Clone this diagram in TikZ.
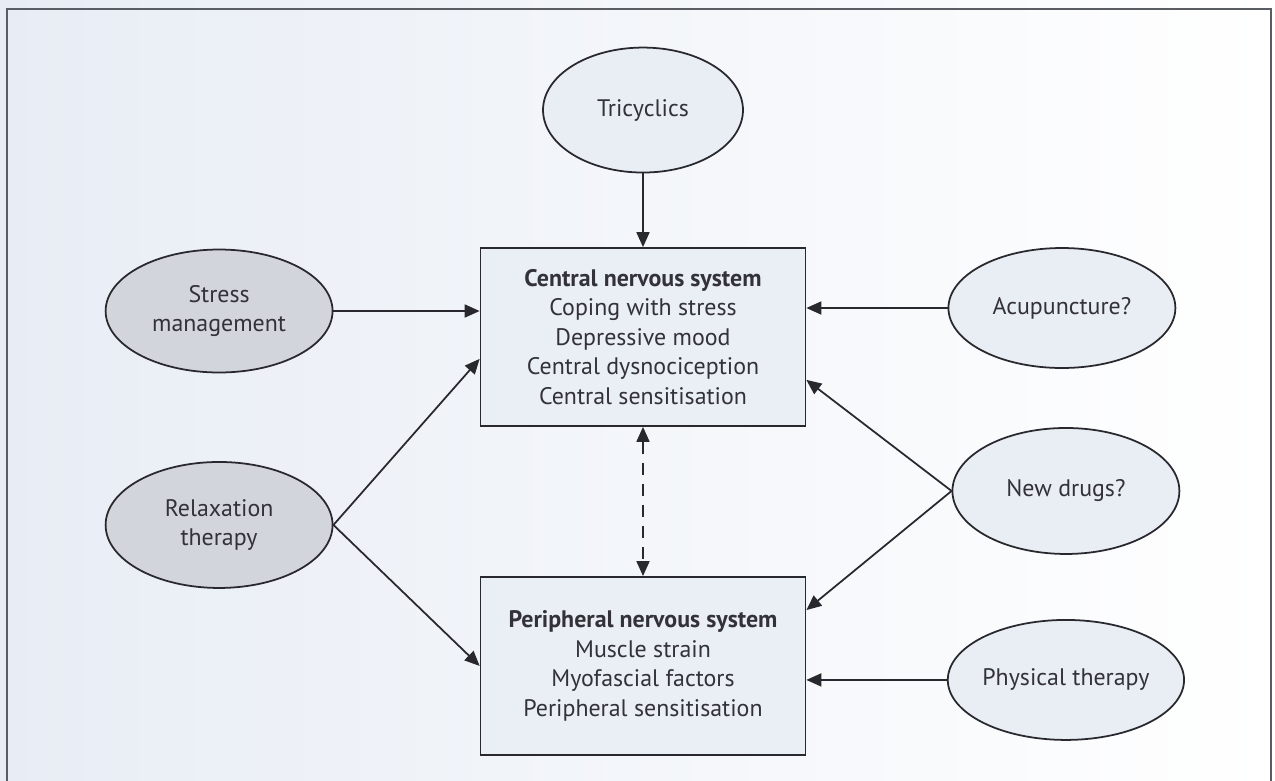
\documentclass[tikz,border=0pt]{standalone}
\usepackage{fontspec}
\setmainfont{PT Sans}
\usetikzlibrary{positioning, arrows.meta, shapes.geometric}

\definecolor{linegray}{RGB}{40,40,46}
\definecolor{framegray}{RGB}{90,93,100}
\definecolor{darkfill}{RGB}{210,213,219}
\definecolor{lightfill}{RGB}{233,237,244}
\definecolor{boxfill}{RGB}{234,238,245}
\definecolor{textgray}{RGB}{50,50,56}
\definecolor{pagetint}{RGB}{232,237,245}

\begin{document}
\begin{tikzpicture}[
    x=0.02cm, y=-0.02cm,
    on grid,
    >={Triangle[length=0.3cm, width=0.26cm]},
    every node/.style={text=textgray, font=\fontsize{13.6}{16.8}\selectfont},
    system/.style={draw=linegray, fill=boxfill, line width=1pt, align=center,
      minimum width=6.5cm, minimum height=3.56cm},
    therapy/.style={ellipse, draw=linegray, fill=lightfill, line width=1pt,
      align=center, inner sep=0pt, minimum width=4.54cm, minimum height=2.46cm},
    therapydark/.style={therapy, fill=darkfill},
    link/.style={->, draw=linegray, line width=1pt},
  ]

  % page and frame
  \useasboundingbox (0,0) rectangle (1275,781);
  \shade[left color=pagetint, right color=white] (0,0) rectangle (1275,781);
  \draw[framegray, line width=1.5pt] (7,781) |- (1271,9) -- (1271,781);

  \node[system] (cns) at (643,337)
    {\textbf{Central nervous system}\\Coping with stress\\Depressive mood\\
     Central dysnociception\\Central sensitisation};
  \node[system, below=6.58cm of cns] (pns)
    {\textbf{Peripheral nervous system}\\Muscle strain\\Myofascial factors\\
     Peripheral sensitisation};

  \node[therapy, above=4.54cm of cns, minimum width=4cm, minimum height=2.5cm]
    (tricyclics) {Tricyclics};

  \node[therapydark, above left=0.52cm and 8.48cm of cns] (stress) {Stress\\management};
  \node[therapydark, below left=3.76cm and 8.48cm of cns, minimum height=2.52cm]
    (relax) {Relaxation\\therapy};

  \node[therapy, above right=0.58cm and 8.38cm of cns, minimum height=2.4cm]
    (acu) {Acupuncture?};
  \node[therapy, below right=3.08cm and 8.46cm of cns, minimum height=2.52cm]
    (newdrugs) {New drugs?};
  \node[therapy, below right=0.28cm and 8.46cm of pns, minimum height=2.4cm]
    (physical) {Physical therapy};

  % treatments acting on the two systems
  \draw[link] (tricyclics) -- (cns);
  \draw[link] (stress) -- (stress -| cns.west);
  \draw[link] (relax.east) -- ([yshift=1.36cm]cns.south west);
  \draw[link] (relax.east) -- (pns.west);
  \draw[link] (acu) -- (acu -| cns.east);
  \draw[link] (newdrugs.west) -- ([yshift=0.94cm]cns.south east);
  \draw[link] (newdrugs.west) -- ([yshift=-0.68cm]pns.north east);
  \draw[link] (physical) -- (physical -| pns.east);
  \draw[link, <->, dash pattern=on 7pt off 5pt] (cns) -- (pns);

\end{tikzpicture}
\end{document}
